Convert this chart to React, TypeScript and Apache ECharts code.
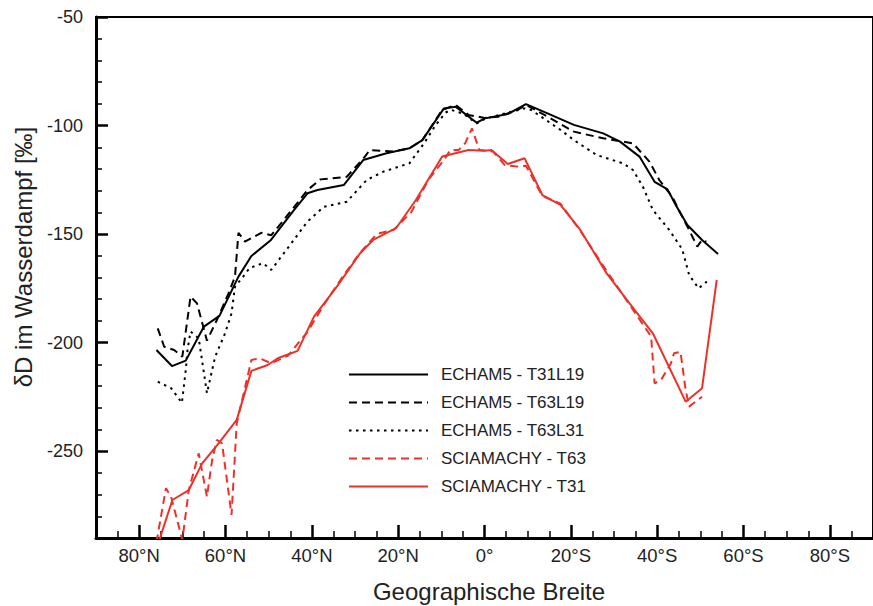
import React, { useEffect, useRef } from "react";
import * as echarts from "echarts";

// Latitude in degrees: positive = North, negative = South
const xLabelTicks = [80, 60, 40, 20, 0, -20, -40, -60, -80];
const xMinorTicks = [85, 75, 70, 65, 55, 50, 45, 35, 30, 25, 15, 10, 5, -5, -10, -15, -25, -30, -35, -45, -50, -55, -65, -70, -75, -85];
const yLabelTicks = [-250, -200, -150, -100, -50];
const yMinorTicks = [-280, -270, -260, -240, -230, -220, -210, -190, -180, -170, -160, -140, -130, -120, -110, -90, -80, -70, -60];

const seriesNames = [
  "ECHAM5 - T31L19",
  "ECHAM5 - T63L19",
  "ECHAM5 - T63L31",
  "SCIAMACHY - T63",
  "SCIAMACHY - T31",
];

const t31l19Lat = [76.0, 72.4, 69.2, 65.0, 61.4, 57.0, 54.0, 49.6, 44.1, 41.0, 38.7, 32.6, 28.1, 22.7, 17.4, 14.4, 9.4, 6.7, 1.8, -0.1, -5.4, -9.6, -14.6, -20.7, -27.5, -31.4, -35.9, -39.4, -42.4, -44.3, -47.0, -50.4, -54.1];
const t31l19Val = [-203.4, -210.8, -208.3, -192.6, -187.7, -169.6, -160.1, -153.0, -138.9, -131.2, -129.7, -127.4, -115.9, -112.8, -110.5, -106.7, -92.1, -91.3, -98.7, -96.7, -94.7, -90.1, -94.4, -99.7, -103.6, -107.4, -114.3, -125.9, -129.4, -136.6, -145.8, -152.7, -159.2];

const t63l19Lat = [75.7, 74.2, 71.9, 70.0, 68.1, 66.6, 64.3, 62.0, 59.3, 57.8, 57.0, 55.5, 51.7, 49.4, 47.1, 41.0, 38.0, 31.9, 27.7, 26.6, 21.2, 17.4, 14.4, 9.8, 6.7, 3.7, 0.0, -3.2, -7.7, -9.6, -14.6, -20.7, -27.5, -32.1, -34.4, -38.2, -40.5, -43.5, -45.4, -47.4, -49.3, -50.4, -51.4];
const t63l19Val = [-193.4, -201.9, -203.4, -206.5, -178.8, -181.9, -199.1, -189.6, -177.3, -169.6, -149.4, -153.5, -149.4, -150.5, -145.0, -129.7, -124.8, -123.6, -114.3, -111.3, -112.0, -110.5, -106.7, -92.8, -90.5, -95.1, -96.5, -95.9, -92.8, -90.5, -95.9, -102.8, -105.9, -107.4, -108.2, -116.6, -125.1, -132.8, -140.4, -148.1, -155.8, -152.7, -153.5];

const t63l31Lat = [75.7, 72.6, 70.1, 69.2, 68.8, 68.1, 66.2, 64.3, 62.4, 60.1, 58.6, 57.8, 55.9, 54.4, 51.3, 49.4, 45.6, 41.0, 37.2, 31.9, 27.3, 23.5, 17.4, 14.0, 11.3, 9.0, 7.7, 5.0, 1.8, 0.0, -4.5, -9.3, -10.8, -13.1, -17.6, -20.7, -26.0, -32.1, -34.4, -36.7, -39.0, -42.8, -45.8, -47.4, -49.6, -51.5];
const t63l31Val = [-218.0, -221.0, -227.7, -212.6, -203.4, -194.9, -198.0, -223.3, -206.5, -195.7, -186.5, -174.2, -169.6, -165.6, -163.4, -166.5, -156.5, -144.2, -137.4, -135.1, -125.1, -121.3, -117.4, -108.2, -99.7, -94.0, -92.8, -94.5, -99.0, -97.0, -94.5, -92.1, -92.8, -95.9, -102.0, -106.7, -113.6, -117.4, -120.5, -128.2, -138.9, -148.1, -157.0, -168.8, -175.0, -171.9];

const sciaT63Lat = [76.0, 73.8, 72.6, 70.0, 68.5, 66.2, 64.3, 63.1, 62.0, 60.8, 58.6, 57.4, 54.0, 52.1, 49.4, 45.5, 41.0, 37.0, 33.0, 29.0, 25.0, 21.0, 17.0, 13.0, 9.4, 7.9, 6.0, 4.5, 2.9, 1.2, 0.0, -2.0, -4.7, -8.1, -9.6, -13.4, -17.6, -22.2, -28.3, -33.6, -38.6, -39.4, -40.9, -43.2, -43.9, -45.4, -46.6, -47.4, -50.4];
const sciaT63Val = [-292.0, -267.1, -271.0, -291.0, -267.9, -251.0, -271.0, -254.1, -244.8, -246.4, -279.4, -237.2, -208.0, -207.2, -209.5, -206.0, -195.0, -182.0, -170.0, -159.0, -150.0, -148.0, -140.0, -125.0, -115.9, -111.3, -111.3, -108.2, -101.3, -111.3, -111.5, -112.0, -118.2, -119.0, -118.5, -132.5, -136.0, -148.5, -167.0, -182.5, -197.2, -218.8, -217.2, -209.5, -204.9, -204.2, -221.8, -229.5, -224.9];

const sciaT31Lat = [75.5, 72.3, 68.5, 65.4, 61.6, 57.4, 54.0, 50.2, 47.9, 43.3, 39.5, 34.2, 28.8, 25.8, 20.5, 15.9, 9.8, 3.7, 0.0, -1.6, -5.4, -9.3, -13.4, -17.6, -22.2, -28.3, -33.6, -39.0, -46.6, -50.4, -53.8];
const sciaT31Val = [-292.0, -272.5, -267.9, -255.6, -246.4, -235.6, -213.0, -210.3, -207.2, -203.8, -188.0, -174.2, -158.8, -152.7, -147.3, -134.3, -114.3, -111.3, -111.6, -111.3, -117.7, -115.1, -132.0, -136.6, -148.1, -168.1, -181.9, -195.7, -227.2, -221.0, -171.1];

const FONT = "'Liberation Sans', Arial, Helvetica, sans-serif";
const BLACK = "#000000";
const RED = "#ec3228";

const zip = (xs: number[], ys: number[]) => xs.map((x, i) => [x, ys[i]]);

const fmtLat = (v: number) => (v > 0 ? `${v}°N` : v < 0 ? `${-v}°S` : "0°");

export default function App() {
  const ref = useRef<HTMLDivElement>(null);

  useEffect(() => {
    if (!ref.current) return;
    const chart = echarts.init(ref.current, undefined, { renderer: "svg" });

    const mk = (name: string, lat: number[], val: number[], color: string, type: any) => ({
      name,
      type: "line",
      data: zip(lat, val),
      symbol: "none",
      clip: true,
      lineStyle: { color, width: 2, type, cap: "butt" },
      itemStyle: { color },
    });

    const xBase = {
      type: "value",
      min: -90,
      max: 90,
      inverse: true,
      position: "bottom",
      splitLine: { show: false },
    };
    const yBase = {
      type: "value",
      min: -290,
      max: -50,
      position: "left",
      splitLine: { show: false },
    };

    chart.setOption({
      animation: false,
      backgroundColor: "#ffffff",
      grid: {
        left: 96,
        top: 17,
        width: 787,
        height: 521,
        show: true,
        borderColor: BLACK,
        borderWidth: 2,
        backgroundColor: "transparent",
      },
      xAxis: [
        {
          ...xBase,
          axisLine: { show: true, onZero: false, lineStyle: { color: BLACK, width: 3 } },
          axisTick: { show: true, inside: true, length: 13, lineStyle: { color: BLACK, width: 2.5 }, customValues: xLabelTicks },
          axisLabel: { show: true, customValues: xLabelTicks, formatter: fmtLat, fontFamily: FONT, fontSize: 18.5, color: "#222", margin: 8 },
        },
        {
          ...xBase,
          axisLine: { show: false, onZero: false },
          axisTick: { show: true, inside: true, length: 7, lineStyle: { color: BLACK, width: 1.5 }, customValues: xMinorTicks },
          axisLabel: { show: false },
        },
      ],
      yAxis: [
        {
          ...yBase,
          axisLine: { show: true, onZero: false, lineStyle: { color: BLACK, width: 3 } },
          axisTick: { show: true, inside: true, length: 12, lineStyle: { color: BLACK, width: 2.5 }, customValues: yLabelTicks },
          axisLabel: { show: true, customValues: yLabelTicks, fontFamily: FONT, fontSize: 18, color: "#222", margin: 13 },
        },
        {
          ...yBase,
          axisLine: { show: false, onZero: false },
          axisTick: { show: true, inside: true, length: 6, lineStyle: { color: BLACK, width: 1.5 }, customValues: yMinorTicks },
          axisLabel: { show: false },
        },
      ],
      legend: {
        orient: "vertical",
        left: 343,
        top: 361,
        itemWidth: 79,
        itemHeight: 14,
        itemGap: 11,
        data: seriesNames,
        itemStyle: { opacity: 0 },
        textStyle: { fontFamily: FONT, fontSize: 17, color: "#222", padding: [0, 0, 0, 8] },
      },
      graphic: [
        {
          type: "text",
          x: 489,
          y: 591,
          style: {
            text: "Geographische Breite",
            font: `24px ${FONT}`,
            fill: "#222",
            textAlign: "center",
            textVerticalAlign: "middle",
          },
        },
        {
          type: "text",
          x: 23,
          y: 257,
          rotation: Math.PI / 2,
          style: {
            text: "δD im Wasserdampf [‰]",
            font: `24px ${FONT}`,
            fill: "#222",
            textAlign: "center",
            textVerticalAlign: "middle",
          },
        },
      ],
      series: [
        mk(seriesNames[0], t31l19Lat, t31l19Val, BLACK, "solid"),
        mk(seriesNames[1], t63l19Lat, t63l19Val, BLACK, [8, 5]),
        mk(seriesNames[2], t63l31Lat, t63l31Val, BLACK, [2.5, 4.5]),
        mk(seriesNames[3], sciaT63Lat, sciaT63Val, RED, [8, 5]),
        mk(seriesNames[4], sciaT31Lat, sciaT31Val, RED, "solid"),
      ],
    });

    return () => chart.dispose();
  }, []);

  return (
    <div
      ref={ref}
      style={{ position: "fixed", left: 0, top: 0, width: 873, height: 606, background: "#fff" }}
    />
  );
}
